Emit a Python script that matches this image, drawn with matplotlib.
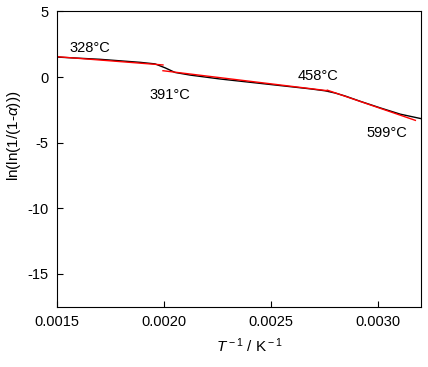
import numpy as np
import matplotlib.pyplot as plt

plt.rcParams['font.family'] = ['Liberation Sans', 'DejaVu Sans']
plt.rcParams['mathtext.fontset'] = 'custom'
plt.rcParams['mathtext.rm'] = 'Liberation Sans'
plt.rcParams['mathtext.it'] = 'Liberation Sans:italic'

# measured curve (1/T vs ln(ln(1/(1-a))))
inv_t = [0.0015, 0.001701, 0.001888, 0.001958, 0.002005, 0.002051, 0.002121,
         0.002262, 0.002402, 0.002542, 0.002682, 0.002752, 0.002799, 0.002846,
         0.002916, 0.003009, 0.003103, 0.0032]
ln_ln = [1.52, 1.35, 1.12, 1.0, 0.7, 0.35, 0.15,
         -0.15, -0.4, -0.65, -0.9, -1.05, -1.22, -1.45,
         -1.85, -2.35, -2.83, -3.17]

# linear fit segments
fit_x = [[0.0015, 0.001995], [0.001995, 0.002762], [0.002762, 0.003173]]
fit_y = [[1.55, 0.92], [0.48, -1.04], [-1.0, -3.3]]

# temperature labels
lab_text = ['328°C', '391°C', '458°C', '599°C']
lab_x = [0.001654, 0.002028, 0.00272, 0.003042]
lab_y = [2.22, -1.37, 0.08, -4.27]

fig = plt.figure(figsize=(4.28, 3.67), dpi=100)
ax = fig.add_axes([0.133, 0.164, 0.851, 0.805])

ax.plot(inv_t, ln_ln, color='black', lw=1.0)
for xs, ys in zip(fit_x, fit_y):
    ax.plot(xs, ys, color='red', lw=1.0)

for s, x, y in zip(lab_text, lab_x, lab_y):
    ax.text(x, y, s, fontsize=10.5, ha='center', va='center')

ax.set_xlim(0.0015, 0.0032)
ax.set_ylim(-17.5, 5)
ax.set_xticks([0.0015, 0.0020, 0.0025, 0.0030])
ax.set_xticklabels(['0.0015', '0.0020', '0.0025', '0.0030'])
ax.set_yticks([5, 0, -5, -10, -15])
ax.set_yticklabels(['5', '0', '-5', '-10', '-15'])
ax.tick_params(direction='in', labelsize=10.5, length=4, pad=6)

ax.set_xlabel(r'$T^{\rm -1}$ / K$^{\rm -1}$', fontsize=11)
ax.set_ylabel(r'ln(ln(1/(1-$\alpha$)))', fontsize=11)
ax.xaxis.set_label_coords(0.527, -0.1)
ax.yaxis.set_label_coords(-0.093, 0.58)

fig.savefig('out.png', dpi=100)
